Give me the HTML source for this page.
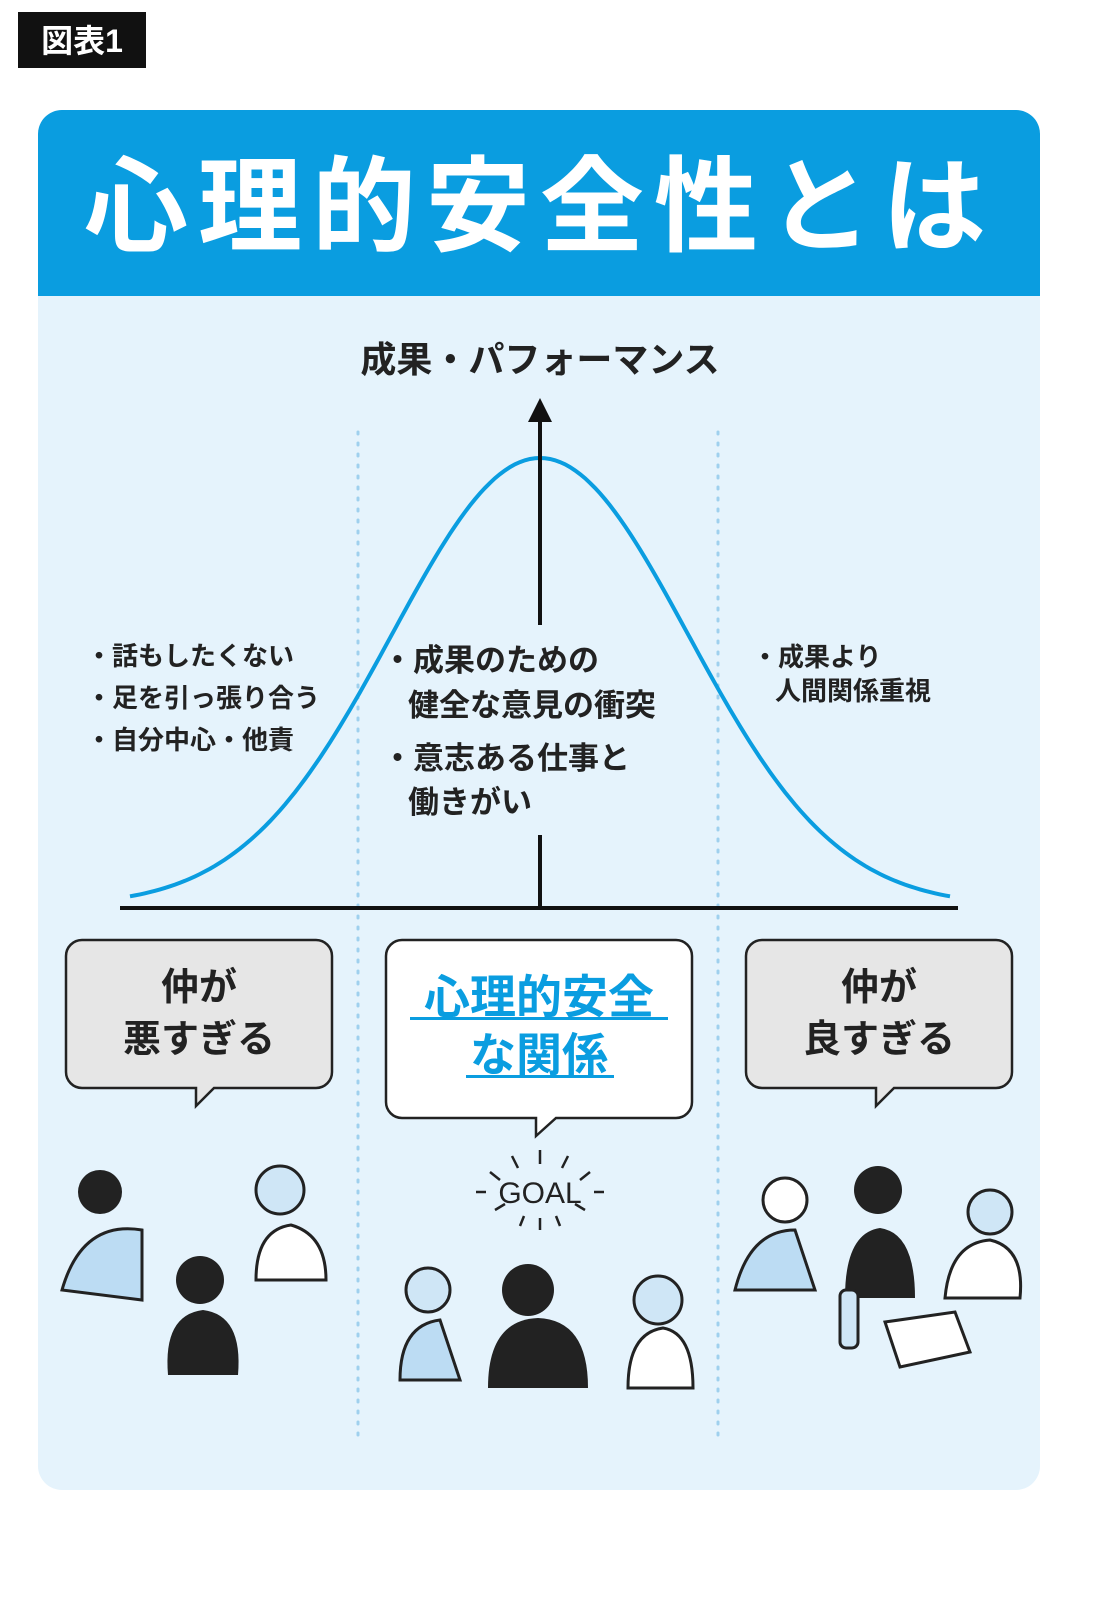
<!DOCTYPE html>
<html><head><meta charset="utf-8"><style>
html,body{margin:0;padding:0;background:#fff;}
body{width:1100px;height:1600px;overflow:hidden;}
svg{display:block;}
text{font-family:"Liberation Sans","Noto Sans CJK JP",sans-serif;font-weight:700;}
</style></head><body>
<svg width="1100" height="1600" viewBox="0 0 1100 1600" xmlns="http://www.w3.org/2000/svg">
<rect x="18" y="12" width="128" height="56" fill="#111"/>
<text x="82" y="52" font-size="32" fill="#fff" text-anchor="middle">図表1</text>
<rect x="38" y="110" width="1002" height="1380" rx="24" fill="#e5f3fc"/>
<path d="M38 296 V134 a24 24 0 0 1 24 -24 H1016 a24 24 0 0 1 24 24 V296 Z" fill="#0a9de0"/>
<text x="540" y="243" font-size="104" fill="#fff" text-anchor="middle" letter-spacing="10">心理的安全性とは</text>
<text x="540" y="372" font-size="36" fill="#222" text-anchor="middle">成果・パフォーマンス</text>
<line x1="358" y1="432" x2="358" y2="1442" stroke="#9fd0ee" stroke-width="3" stroke-dasharray="2 9" stroke-linecap="round"/>
<line x1="718" y1="432" x2="718" y2="1442" stroke="#9fd0ee" stroke-width="3" stroke-dasharray="2 9" stroke-linecap="round"/>
<path id="bell" d="" fill="none" stroke="#0a9de0" stroke-width="4"/>
<line x1="540" y1="418" x2="540" y2="625" stroke="#111" stroke-width="4"/>
<line x1="540" y1="835" x2="540" y2="908" stroke="#111" stroke-width="4"/>
<polygon points="540,398 528,422 552,422" fill="#111"/>
<line x1="120" y1="908" x2="958" y2="908" stroke="#111" stroke-width="4"/>
<g font-size="26" fill="#222">
<text x="86" y="665">・話もしたくない</text>
<text x="86" y="707">・足を引っ張り合う</text>
<text x="86" y="749">・自分中心・他責</text>
<text x="752" y="666">・成果より</text>
<text x="775" y="700">人間関係重視</text>
</g>
<g font-size="31" fill="#222">
<text x="382" y="671">・成果のための</text>
<text x="408" y="716">健全な意見の衝突</text>
<text x="382" y="769">・意志ある仕事と</text>
<text x="408" y="813">働きがい</text>
</g>
<path d="M82 940 H316 a16 16 0 0 1 16 16 V1072 a16 16 0 0 1 -16 16 H214 L196 1106 V1088 H82 a16 16 0 0 1 -16 -16 V956 a16 16 0 0 1 16 -16Z" fill="#e6e6e6" stroke="#222" stroke-width="2.5"/>
<path d="M762 940 H996 a16 16 0 0 1 16 16 V1072 a16 16 0 0 1 -16 16 H894 L876 1106 V1088 H762 a16 16 0 0 1 -16 -16 V956 a16 16 0 0 1 16 -16Z" fill="#e6e6e6" stroke="#222" stroke-width="2.5"/>
<path d="M402 940 H676 a16 16 0 0 1 16 16 V1102 a16 16 0 0 1 -16 16 H556 L536 1136 V1118 H402 a16 16 0 0 1 -16 -16 V956 a16 16 0 0 1 16 -16Z" fill="#fff" stroke="#222" stroke-width="2.5"/>
<g font-size="38" fill="#222" text-anchor="middle">
<text x="199" y="1000">仲が</text>
<text x="199" y="1052">悪すぎる</text>
<text x="879" y="1000">仲が</text>
<text x="879" y="1052">良すぎる</text>
</g>
<g font-size="46" fill="#0a9de0" text-anchor="middle">
<text x="539" y="1013">心理的安全</text>
<text x="539" y="1071">な関係</text>
</g>
<rect x="410" y="1017" width="258" height="3" fill="#0a9de0"/>
<rect x="466" y="1075" width="148" height="3" fill="#0a9de0"/>
<text x="540" y="1203" font-size="30" fill="#222" text-anchor="middle" style="font-weight:400">GOAL</text>
<g stroke="#222" stroke-width="2.5" fill="none">
<path d="M540 1150 v14 M512 1156 l6 12 M568 1156 l-6 12 M490 1172 l10 8 M590 1172 l-10 8 M476 1192 h10 M604 1192 h-10 M495 1210 l10 -6 M585 1210 l-10 -6 M520 1226 l4 -10 M560 1226 l-4 -10 M540 1230 v-12"/>
</g>
<g fill="#222">
<circle cx="100" cy="1192" r="22"/><path d="M62 1290 q20 -70 80 -60 v70 z" fill="#bcdcf3" stroke="#222" stroke-width="3"/>
<circle cx="200" cy="1280" r="24"/><path d="M168 1375 q-5 -60 35 -65 q40 5 35 65z"/>
<circle cx="280" cy="1190" r="24" fill="#cfe6f6" stroke="#222" stroke-width="3"/><path d="M256 1280 q0 -50 35 -55 q35 10 35 55z" fill="#fff" stroke="#222" stroke-width="3"/>
<circle cx="428" cy="1290" r="22" fill="#cfe6f6" stroke="#222" stroke-width="3"/><path d="M400 1380 q0 -55 40 -60 l20 60z" fill="#bcdcf3" stroke="#222" stroke-width="3"/>
<circle cx="528" cy="1290" r="26"/><path d="M488 1388 q0 -68 50 -70 q50 2 50 70z"/>
<circle cx="658" cy="1300" r="24" fill="#cfe6f6" stroke="#222" stroke-width="3"/><path d="M628 1388 q0 -55 35 -60 q30 5 30 60z" fill="#fff" stroke="#222" stroke-width="3"/>
<circle cx="785" cy="1200" r="22" fill="#fff" stroke="#222" stroke-width="3"/><path d="M735 1290 q15 -60 60 -60 l20 60z" fill="#bcdcf3" stroke="#222" stroke-width="3"/>
<circle cx="878" cy="1190" r="24"/><path d="M845 1298 q0 -65 35 -70 q35 5 35 70z"/>
<circle cx="990" cy="1212" r="22" fill="#cfe6f6" stroke="#222" stroke-width="3"/><path d="M945 1298 q5 -55 45 -58 q35 8 30 58z" fill="#fff" stroke="#222" stroke-width="3"/>
<rect x="840" y="1290" width="18" height="58" rx="6" fill="#cfe6f6" stroke="#222" stroke-width="3"/>
<path d="M885 1322 l70 -10 l15 40 l-70 15z" fill="#fff" stroke="#222" stroke-width="3"/>
</g>
</svg>
<script>
var d="",s=148;
for(var x=130;x<=950;x+=5){var y=906-448*Math.exp(-Math.pow((x-540)/s,2)/2);d+=(x==130?"M":"L")+x+" "+y.toFixed(1)+" ";}
document.getElementById("bell").setAttribute("d",d);
</script>
</body></html>
